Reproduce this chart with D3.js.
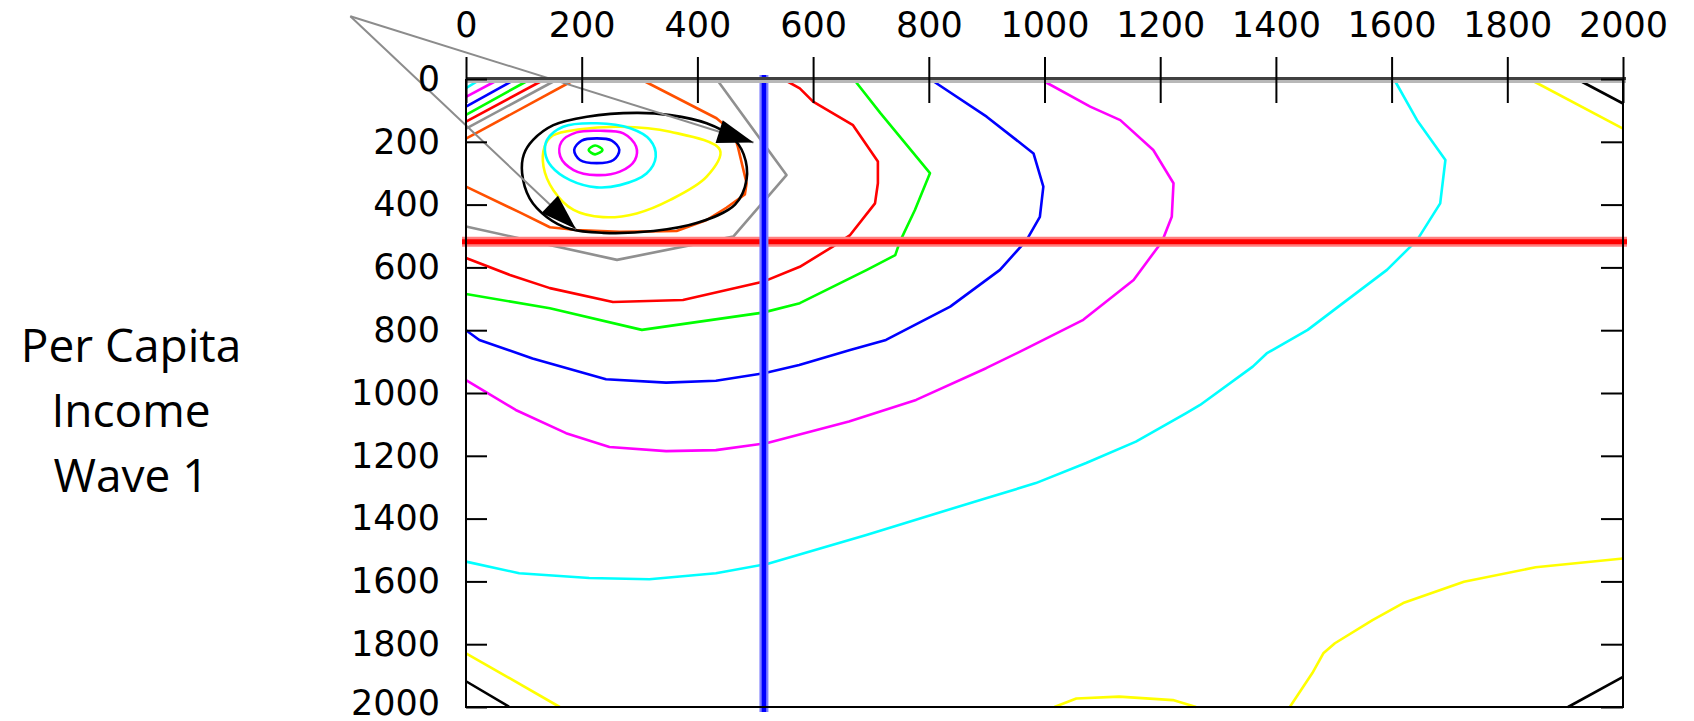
<!DOCTYPE html>
<html>
<head>
<meta charset="utf-8">
<script src="https://cdn.jsdelivr.net/npm/d3@7"></script>
<style>
  body { margin: 0; background: #fff; }
  svg { display: block; }
</style>
</head>
<body>
<script>
// axis ticks (both axes run 0..2000, y reversed, x axis on top)
const xTicks = [0, 200, 400, 600, 800, 1000, 1200, 1400, 1600, 1800, 2000];
const yTicks = [0, 200, 400, 600, 800, 1000, 1200, 1400, 1600, 1800, 2000];
const titleLines = ["Per Capita", "Income", "Wave 1"];

// nullclines
const nullX = 515;
const nullY = 518;

// arrows: common start point off the plot, two tips on the cycle
const arrowFrom = [-200, -200];
const arrowTips = [[497, 202], [190, 478]];

// closed contours around the equilibrium
const greenDot = [[212,226],[223,212],[236,226],[223,240]];
const blueInner = [[187,226],[200,196],[226,189],[252,196],[265,226],[255,258],[226,268],[197,258]];
const magentaInner = [[163,247],[165,200],[191,170],[232,165],[272,173],[294,215],[292,258],[266,295],[226,306],[186,290]];
const cyanInner = [[137,237],[140,194],[168,152],[226,141],[284,157],[318,194],[328,247],[312,301],[266,338],[226,345],[180,322],[148,279]];
const yellowInner = [[134,279],[136,215],[150,180],[197,160],[266,152],[353,168],[439,226],[416,311],[353,385],[295,428],[237,440],[186,417],[151,354]];
const blackLoop = [[151,147],[209,120],[295,108],[353,115],[416,141],[460,185],[480,240],[485,320],[465,400],[400,458],[324,484],[237,490],[180,478],[140,440],[110,380],[97,300],[100,240],[116,194]];

// open contours
const orangeLoop = [[301,0],[433,125],[462,170],[470,216],[485,332],[482,368],[450,410],[416,449],[364,484],[266,487],[191,481],[145,472],[93,425],[0,343]];
const grayLoop = [[433,0],[554,306],[462,502],[261,576],[0,470]];
const redOuter = [[548,0],[577,30],[600,72],[669,147],[712,263],[712,332],[707,396],[664,497],[634,534],[577,598],[513,646],[375,704],[254,710],[145,666],[76,624],[0,570]];
const greenOuter = [[670,0],[716,108],[802,300],[776,417],[750,518],[742,561],[693,608],[577,714],[513,744],[304,799],[145,730],[0,685]];
const blueOuter = [[802,0],[900,120],[981,237],[998,343],[992,439],[969,513],[923,608],[837,725],[726,831],[664,863],[576,911],[515,937],[432,961],[346,967],[242,956],[115,890],[23,831],[0,800]];
const magentaOuter = [[992,0],[1079,88],[1131,131],[1188,226],[1223,332],[1220,439],[1203,518],[1154,640],[1067,767],[969,858],[899,921],[778,1022],[662,1091],[519,1160],[432,1182],[346,1185],[248,1172],[173,1128],[86,1054],[0,959]];
const cyanOuter = [[1604,0],[1644,131],[1693,258],[1684,396],[1644,513],[1592,608],[1500,736],[1455,799],[1384,874],[1360,916],[1269,1038],[1245,1064],[1158,1155],[1072,1223],[985,1287],[899,1335],[692,1452],[519,1545],[432,1574],[317,1593],[213,1589],[92,1574],[0,1537]];
const yellowTR = [[1838,0],[2000,158]];
const yellowBR = [[2000,1527],[1849,1555],[1725,1601],[1620,1669],[1567,1723],[1502,1797],[1482,1829],[1463,1892],[1424,2000]];
const yellowBump = [[1017,2000],[1055,1973],[1129,1967],[1222,1978],[1262,2000]];
const yellowBL = [[0,1829],[162,2000]];
const blackTR = [[1920,0],[2000,78]];
const blackBL = [[0,1918],[75,2000]];
const blackBR = [[1905,2000],[2000,1904]];

// corner contours near the origin
const orangeCorner = [[0,190],[190,0]];
const grayCorner = [[0,158],[159,0]];
const redCorner = [[0,136],[137,0]];
const greenCorner = [[0,114],[112,0]];
const blueCorner = [[0,88],[86,0]];
const magentaCorner = [[0,57],[58,0]];
const cyanCorner = [[0,29],[26,0]];
const yellowCorner = [[0,8],[7,0]];

const C = { red: "#ff0000", green: "#00ff00", blue: "#0000ff", magenta: "#ff00ff",
            cyan: "#00ffff", yellow: "#ffff00", black: "#000000", orange: "#ff5000", gray: "#909090" };

const openLines = [
  [orangeCorner, C.orange], [grayCorner, C.gray], [redCorner, C.red], [greenCorner, C.green],
  [blueCorner, C.blue], [magentaCorner, C.magenta], [cyanCorner, C.cyan], [yellowCorner, C.yellow],
  [grayLoop, C.gray], [orangeLoop, C.orange],
  [redOuter, C.red], [greenOuter, C.green], [blueOuter, C.blue], [magentaOuter, C.magenta],
  [cyanOuter, C.cyan], [yellowTR, C.yellow], [yellowBR, C.yellow], [yellowBump, C.yellow],
  [yellowBL, C.yellow], [blackTR, C.black], [blackBL, C.black], [blackBR, C.black]
];
const closedLines = [
  [yellowInner, C.yellow], [cyanInner, C.cyan], [magentaInner, C.magenta],
  [blueInner, C.blue], [greenDot, C.green], [blackLoop, C.black]
];

const W = 1694, H = 721;
const x = d3.scaleLinear().domain([0, 2000]).range([466, 1623]);
const y = d3.scaleLinear().domain([0, 2000]).range([79, 707]);

const svg = d3.select("body").append("svg").attr("width", W).attr("height", H);

const line = d3.line().x(d => x(d[0])).y(d => y(d[1]));
const loop = d3.line().x(d => x(d[0])).y(d => y(d[1])).curve(d3.curveCatmullRomClosed);

const g = svg.append("g");
openLines.forEach(([pts, col]) => {
  g.append("path").attr("d", line(pts)).attr("fill", "none")
    .attr("stroke", col).attr("stroke-width", 2.6).attr("stroke-linejoin", "round");
});
closedLines.forEach(([pts, col]) => {
  g.append("path").attr("d", loop(pts)).attr("fill", "none")
    .attr("stroke", col).attr("stroke-width", 2.6);
});

// arrows
arrowTips.forEach(t => {
  const x0 = x(arrowFrom[0]), y0 = y(arrowFrom[1]), x1 = x(t[0]), y1 = y(t[1]);
  svg.append("line").attr("x1", x0).attr("y1", y0).attr("x2", x1).attr("y2", y1)
    .attr("stroke", "#8c8c8c").attr("stroke-width", 2);
  const a = Math.atan2(y1 - y0, x1 - x0), len = 36, hw = 12;
  const bx = x1 - len * Math.cos(a), by = y1 - len * Math.sin(a);
  const px = -Math.sin(a) * hw, py = Math.cos(a) * hw;
  svg.append("path")
    .attr("d", `M${x1},${y1}L${bx + px},${by + py}L${bx - px},${by - py}Z`)
    .attr("fill", "#000");
});

// nullclines
svg.append("line").attr("x1", x(0) - 4).attr("x2", x(2000) + 4).attr("y1", y(nullY)).attr("y2", y(nullY))
  .attr("stroke", "#ff8080").attr("stroke-width", 10);
svg.append("line").attr("x1", x(0) - 4).attr("x2", x(2000) + 4).attr("y1", y(nullY)).attr("y2", y(nullY))
  .attr("stroke", "#ff0000").attr("stroke-width", 5);
svg.append("line").attr("x1", x(nullX)).attr("x2", x(nullX)).attr("y1", y(0) - 4).attr("y2", y(2000) + 5)
  .attr("stroke", "#8080ff").attr("stroke-width", 9);
svg.append("line").attr("x1", x(nullX)).attr("x2", x(nullX)).attr("y1", y(0) - 4).attr("y2", y(2000) + 5)
  .attr("stroke", "#0000ff").attr("stroke-width", 4.5);

// frame
svg.append("line").attr("x1", x(0)).attr("x2", x(2000) + 3).attr("y1", 81.5).attr("y2", 81.5)
  .attr("stroke", "#b8b8b8").attr("stroke-width", 3);
svg.append("line").attr("x1", x(0)).attr("x2", x(2000) + 3).attr("y1", 78.5).attr("y2", 78.5)
  .attr("stroke", "#404040").attr("stroke-width", 3);
svg.append("line").attr("x1", x(0)).attr("x2", x(2000)).attr("y1", y(2000)).attr("y2", y(2000))
  .attr("stroke", "#000").attr("stroke-width", 2);
svg.append("line").attr("x1", x(0)).attr("x2", x(0)).attr("y1", y(0)).attr("y2", y(2000) + 1)
  .attr("stroke", "#000").attr("stroke-width", 2);
svg.append("line").attr("x1", x(2000)).attr("x2", x(2000)).attr("y1", y(0)).attr("y2", y(2000) + 1)
  .attr("stroke", "#000").attr("stroke-width", 2);

const tickFont = "DejaVu Sans, Verdana, sans-serif";
const fmt = d3.format("d");

// top axis: labels plus outward ticks
const xTop = svg.append("g").attr("transform", `translate(0,${y(0)})`)
  .call(d3.axisTop(x).tickValues(xTicks).tickFormat(fmt).tickSize(22).tickSizeOuter(0).tickPadding(20));
// inward half of the crossing ticks
const xIn = svg.append("g").attr("transform", `translate(0,${y(0)})`)
  .call(d3.axisBottom(x).tickValues(xTicks).tickSize(24).tickSizeOuter(0).tickFormat(""));

const yLeft = svg.append("g").attr("transform", `translate(${x(0)},0)`)
  .call(d3.axisLeft(y).tickValues(yTicks).tickFormat(fmt).tickSize(-21).tickSizeOuter(0).tickPadding(26));
const yRight = svg.append("g").attr("transform", `translate(${x(2000)},0)`)
  .call(d3.axisRight(y).tickValues(yTicks).tickSize(-22).tickSizeOuter(0).tickFormat(""));

[xTop, xIn, yLeft, yRight].forEach(a => {
  a.select(".domain").remove();
  a.selectAll(".tick line").attr("stroke", "#000").attr("stroke-width", 2);
  a.selectAll(".tick text").attr("fill", "#000").style("font-family", tickFont).style("font-size", "35px");
});
// keep the bottom label inside the window
yLeft.selectAll(".tick text").filter(d => d === 2000).attr("dy", "0.2em");

// y axis title
svg.append("g").selectAll("text").data(titleLines).enter().append("text")
  .attr("x", 131)
  .attr("y", (d, i) => 362 + i * 65)
  .attr("text-anchor", "middle")
  .style("font-family", "Open Sans, Noto Sans, sans-serif")
  .style("font-size", "46px")
  .attr("fill", "#000")
  .text(d => d);
</script>
</body>
</html>
